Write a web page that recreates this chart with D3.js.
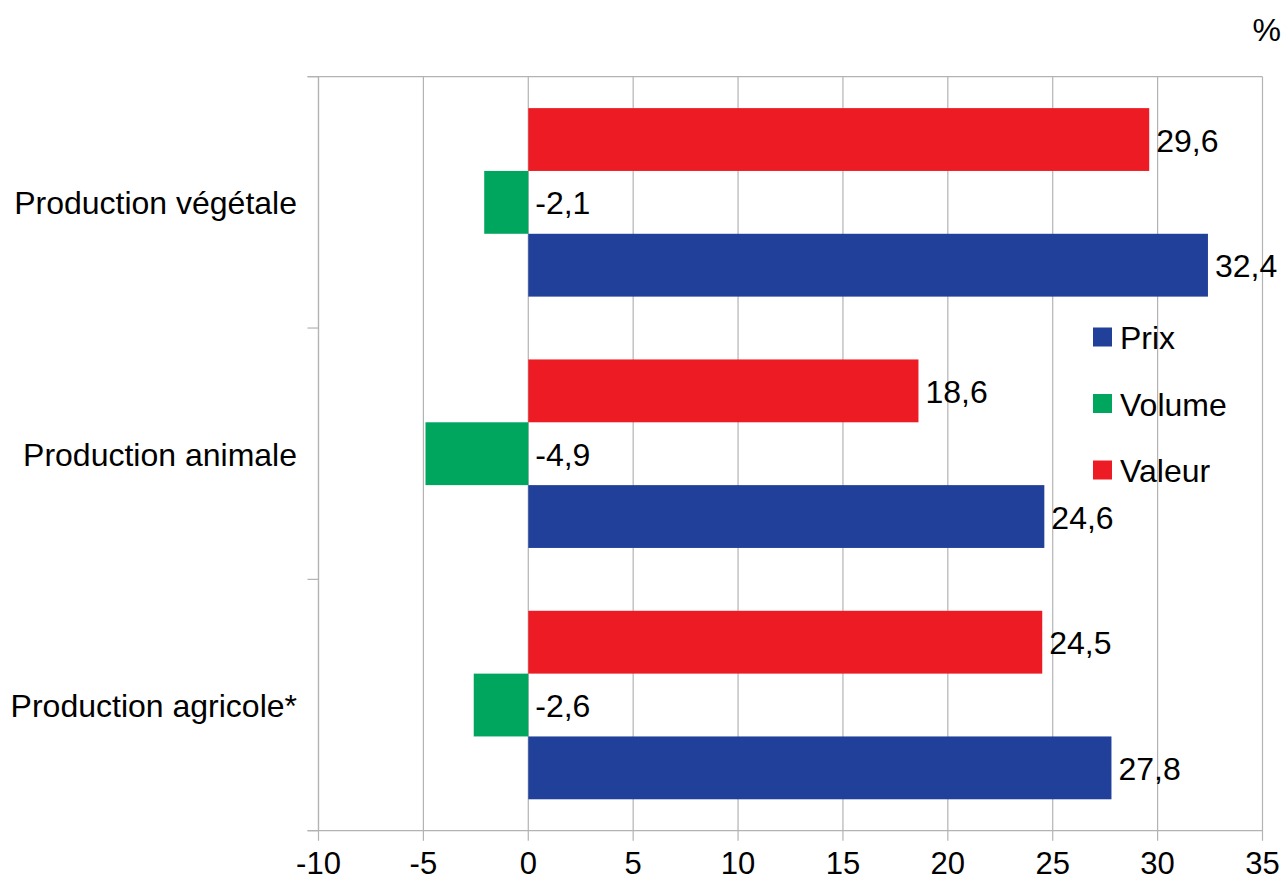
<!DOCTYPE html>
<html><head><meta charset="utf-8">
<script src="https://cdn.jsdelivr.net/npm/d3@7"></script>
<style>body{margin:0;background:#fff}svg{display:block}text{font-family:"Liberation Sans",Arial,sans-serif;fill:#000}</style>
</head><body>
<script>
const categories = ["Production végétale", "Production animale", "Production agricole*"];
const seriesNames = ["Valeur", "Volume", "Prix"];
const valeur = [29.6, 18.6, 24.5];
const volume = [-2.1, -4.9, -2.6];
const prix = [32.4, 24.6, 27.8];
const xTicks = [-10, -5, 0, 5, 10, 15, 20, 25, 30, 35];
const legendOrder = ["Prix", "Volume", "Valeur"];
const colors = {Valeur: "#ED1C24", Volume: "#00A65D", Prix: "#21409A"};
const seriesValues = {Valeur: valeur, Volume: volume, Prix: prix};

(function () {
const W = 1284, H = 880;
const pL = 318.5, pR = 1262.5, pT = 76.7, pB = 830.7;
const FS = 32, TFS = 31;
const svg = d3.select("body").append("svg").attr("width", W).attr("height", H);

const x = d3.scaleLinear().domain([-10, 35]).range([pL, pR]);
const y = d3.scaleBand().domain(categories).range([pT, pB]).paddingInner(0).paddingOuter(0);
const yInner = d3.scaleBand().domain(seriesNames).range([0, y.bandwidth()]).paddingOuter(0.5).paddingInner(0);

const grid = "#b3b3b3";
svg.append("g").selectAll("line").data(xTicks).join("line")
  .attr("x1", d => x(d)).attr("x2", d => x(d))
  .attr("y1", pT).attr("y2", pB + 10)
  .attr("stroke", grid).attr("stroke-width", 1.2);
svg.append("line").attr("x1", pL - 11).attr("x2", pR).attr("y1", pT).attr("y2", pT).attr("stroke", grid).attr("stroke-width", 1.2);
svg.append("line").attr("x1", pL - 11).attr("x2", pR).attr("y1", pB).attr("y2", pB).attr("stroke", grid).attr("stroke-width", 1.2);
svg.append("line").attr("x1", pL).attr("x2", pL).attr("y1", pT).attr("y2", pB).attr("stroke", grid).attr("stroke-width", 1.2);
const bounds = categories.map(c => y(c)).concat([pB]);
svg.append("g").selectAll("line").data(bounds).join("line")
  .attr("x1", pL - 11).attr("x2", pL).attr("y1", d => d).attr("y2", d => d)
  .attr("stroke", grid).attr("stroke-width", 1.2);

svg.append("g").selectAll("text").data(xTicks).join("text")
  .attr("x", d => x(d)).attr("y", 874).attr("text-anchor", "middle")
  .style("font-size", TFS + "px").text(d => d);

svg.append("g").selectAll("text").data(categories).join("text")
  .attr("x", 297).attr("y", d => y(d) + y.bandwidth() / 2 + 12).attr("text-anchor", "end")
  .style("font-size", FS + "px").text(d => d);

const bars = [];
categories.forEach((c, i) => seriesNames.forEach(s => bars.push({c, s, v: seriesValues[s][i]})));
svg.append("g").selectAll("rect").data(bars).join("rect")
  .attr("x", d => x(Math.min(0, d.v)))
  .attr("width", d => Math.abs(x(d.v) - x(0)))
  .attr("y", d => y(d.c) + yInner(d.s))
  .attr("height", yInner.bandwidth())
  .attr("fill", d => colors[d.s]);

const fmt = v => d3.format(".1f")(v).replace(".", ",").replace("\u2212", "-");
svg.append("g").selectAll("text").data(bars).join("text")
  .attr("x", d => x(Math.max(0, d.v)) + 7)
  .attr("y", d => y(d.c) + yInner(d.s) + yInner.bandwidth() / 2 + 12)
  .style("font-size", FS + "px").text(d => fmt(d.v));

const lg = svg.append("g");
legendOrder.forEach((s, i) => {
  const cy = 337 + i * 66.5;
  lg.append("rect").attr("x", 1093).attr("y", cy - 9.5).attr("width", 19).attr("height", 19).attr("fill", colors[s]);
  lg.append("text").attr("x", 1120).attr("y", cy + 12).style("font-size", FS + "px").text(s);
});

svg.append("text").attr("x", 1281).attr("y", 41).attr("text-anchor", "end").style("font-size", FS + "px").text("%");
})();
</script>
</body></html>
